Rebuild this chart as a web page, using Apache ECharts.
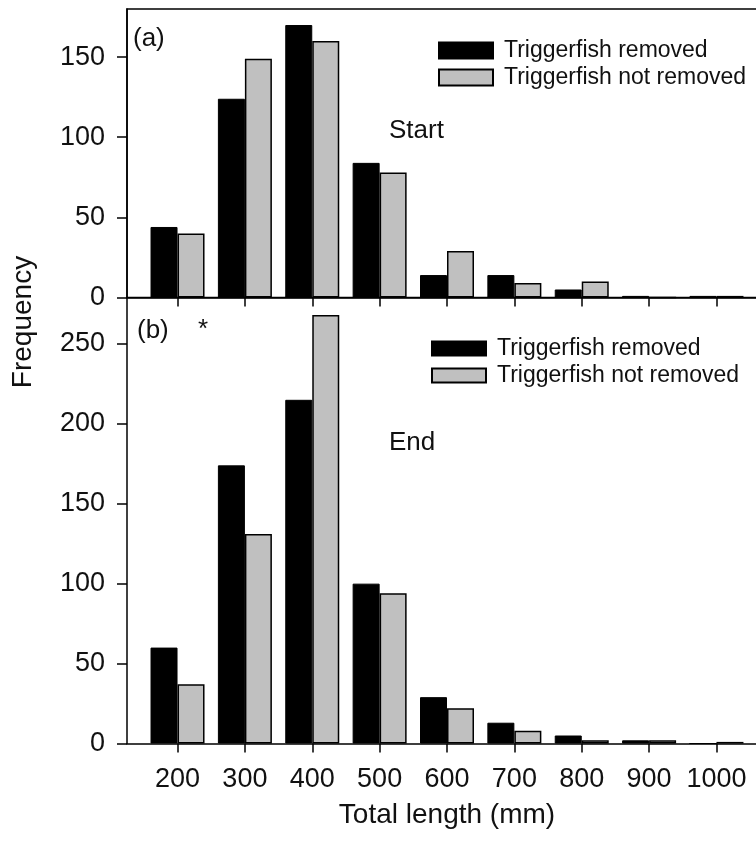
<!DOCTYPE html>
<html>
<head>
<meta charset="utf-8">
<title>Total length frequency</title>
<script src="https://cdn.jsdelivr.net/npm/echarts@6/dist/echarts.min.js"></script>
<style>
  html, body { margin: 0; padding: 0; background: #fff; }
  #chart { width: 756px; height: 844px; }
</style>
</head>
<body>
<div id="chart"></div>
<script>
// Size classes (mm, total length)
var sizeClasses = [200, 300, 400, 500, 600, 700, 800, 900, 1000];

// (a) Start of experiment
var startRemoved    = [44, 124, 170, 84, 14, 14, 5, 1, 1];
var startNotRemoved = [40, 149, 160, 78, 29, 9, 10, 0, 1];

// (b) End of experiment
var endRemoved    = [60, 174, 215, 100, 29, 13, 5, 2, 0];
var endNotRemoved = [37, 131, 268, 94, 22, 8, 2, 2, 1];

// Tick labels
var xTicks = [200, 300, 400, 500, 600, 700, 800, 900, 1000];
var topYTicks = [0, 50, 100, 150];
var bottomYTicks = [0, 50, 100, 150, 200, 250];

var seriesNames = ['Triggerfish removed', 'Triggerfish not removed'];

var FONT = 'Liberation Sans, Arial, sans-serif';
var INK = '#111';

function pairs(xs, ys) {
  return xs.map(function (x, i) { return [x, ys[i]]; });
}

// plain integers, no thousands separator
function plain(v) { return String(Math.round(v)); }

var blackStyle = { color: '#000', borderColor: '#000', borderWidth: 1 };
var greyStyle = { color: '#c0c0c0', borderColor: '#000', borderWidth: 1.5 };

function barSeries(name, gi, values, style) {
  return {
    type: 'bar',
    name: name,
    xAxisIndex: gi,
    yAxisIndex: gi,
    data: pairs(sizeClasses, values),
    barWidth: 27,
    barGap: '0%',
    itemStyle: style,
    emphasis: { disabled: true }
  };
}

function xAxisFor(gi, showLabels) {
  return {
    type: 'value',
    gridIndex: gi,
    min: 125,
    max: 1075,
    axisLine: { show: true, onZero: false, lineStyle: { color: '#000', width: 1.5 } },
    axisTick: { show: true, inside: false, length: 9, customValues: xTicks,
                lineStyle: { color: '#000', width: 1.5 } },
    axisLabel: { show: showLabels, customValues: xTicks, margin: 23, formatter: plain,
                 fontFamily: FONT, fontSize: 27, color: INK },
    splitLine: { show: false },
    name: showLabels ? 'Total length (mm)' : '',
    nameLocation: 'middle',
    nameGap: 58,
    nameTextStyle: { fontFamily: FONT, fontSize: 28, color: INK }
  };
}

function yAxisFor(gi, maxVal, ticks) {
  return {
    type: 'value',
    gridIndex: gi,
    min: 0,
    max: maxVal,
    axisLine: { show: true, lineStyle: { color: '#000', width: 1.5 } },
    axisTick: { show: true, inside: false, length: 10, customValues: ticks,
                lineStyle: { color: '#000', width: 1.5 } },
    axisLabel: { customValues: ticks, margin: 22, formatter: plain,
                 fontFamily: FONT, fontSize: 27, color: INK },
    splitLine: { show: false }
  };
}

function legendAt(left, top, itemHeight) {
  return {
    show: true,
    data: seriesNames,
    orient: 'vertical',
    left: left,
    top: top,
    itemWidth: 54,
    itemHeight: itemHeight,
    itemGap: 4,
    icon: 'rect',
    selectedMode: false,
    padding: 0,
    textStyle: { fontFamily: FONT, fontSize: 23, color: INK, padding: [0, 0, 0, 6] }
  };
}

function label(text, x, y, size, align, rotation) {
  return {
    type: 'text',
    x: x,
    y: y,
    rotation: rotation || 0,
    silent: true,
    style: {
      text: text,
      font: size + 'px ' + FONT,
      fill: INK,
      textAlign: align || 'left',
      textVerticalAlign: 'middle',
      align: align || 'left',
      verticalAlign: 'middle'
    }
  };
}

var chart = echarts.init(document.getElementById('chart'), null, { renderer: 'canvas' });

chart.setOption({
  animation: false,
  backgroundColor: '#fff',
  grid: [
    { left: 127, top: 9, width: 640, height: 288.5, show: true,
      borderColor: '#000', borderWidth: 1.5, backgroundColor: 'transparent',
      outerBoundsMode: 'none' },
    { left: 127, top: 297.5, width: 640, height: 446, outerBoundsMode: 'none' }
  ],
  xAxis: [xAxisFor(0, false), xAxisFor(1, true)],
  yAxis: [yAxisFor(0, 180, topYTicks), yAxisFor(1, 279, bottomYTicks)],
  legend: [legendAt(438, 39, 16), legendAt(431, 337, 14)],
  series: [
    barSeries(seriesNames[0], 0, startRemoved, blackStyle),
    barSeries(seriesNames[1], 0, startNotRemoved, greyStyle),
    barSeries(seriesNames[0], 1, endRemoved, blackStyle),
    barSeries(seriesNames[1], 1, endNotRemoved, greyStyle)
  ],
  graphic: [
    label('Frequency', 23, 322, 28, 'center', Math.PI / 2),
    label('(a)', 133, 39, 26, 'left'),
    label('(b)', 137, 331, 26, 'left'),
    label('*', 203, 330, 26, 'center'),
    label('Start', 389, 131, 26, 'left'),
    label('End', 389, 443, 26, 'left')
  ]
});
</script>
</body>
</html>
